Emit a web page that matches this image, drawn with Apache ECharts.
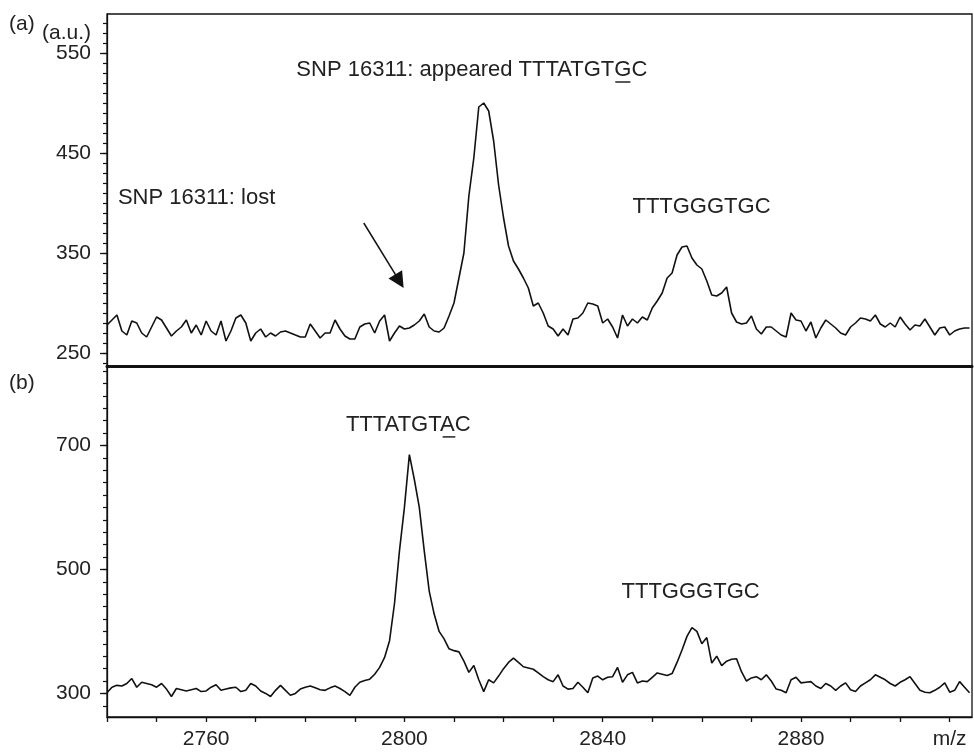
<!DOCTYPE html>
<html>
<head>
<meta charset="utf-8">
<script src="https://cdn.jsdelivr.net/npm/echarts@6/dist/echarts.min.js"></script>
<style>
    html, body { margin: 0; padding: 0; background: #fff; }
    #main { width: 974px; height: 752px; }
</style>
</head>
<body>
<div id="main"></div>
<script>
// m/z sampling: one point per unit, starting at 2740
var mzStart = 2740;

// (a) spectrum, intensity (a.u.), m/z 2740..2914
var intensityA = [
    278, 283, 288, 272, 268, 282, 280, 270, 266, 276,
    286, 283, 275, 267, 272, 276, 283, 270, 278, 268,
    282, 272, 268, 282, 262, 272, 285, 288, 280, 262,
    270, 274, 266, 270, 267, 271, 272, 270, 268, 266,
    266, 279, 272, 265, 270, 270, 283, 274, 267, 264,
    264, 276, 279, 280, 270, 282, 288, 262, 270, 277,
    274, 275, 278, 282, 289, 276, 272, 271, 275, 287,
    300, 325, 350, 407, 445, 496, 500, 492, 462, 418,
    385, 357, 342, 334, 325, 315, 297, 300, 290, 277,
    274, 267, 274, 268, 284, 285, 290, 300, 299, 297,
    280, 284, 276, 265, 288, 277, 284, 280, 286, 283,
    295, 302, 310, 325, 330, 348, 356, 357, 345, 338,
    334, 322, 308, 307, 310, 316, 290, 281, 279, 280,
    287, 274, 269, 276, 276, 272, 268, 266, 290, 283,
    282, 272, 281, 265, 275, 283, 279, 275, 270, 268,
    276, 280, 285, 284, 282, 288, 279, 276, 280, 276,
    286, 279, 273, 278, 277, 284, 276, 268, 275, 276,
    268, 272, 274, 275, 275
];

// (b) spectrum, intensity (a.u.), m/z 2740..2914
var intensityB = [
    301, 310, 313, 312, 316, 324, 310, 318, 316, 314,
    310, 316, 307, 295, 308, 306, 304, 306, 308, 303,
    304, 310, 314, 305, 307, 309, 310, 303, 305, 316,
    312, 304, 300, 295, 305, 313, 305, 297, 300, 307,
    310, 312, 309, 306, 305, 309, 312, 308, 303, 297,
    310, 318, 321, 323, 331, 342, 358, 385, 445, 530,
    600, 685, 645, 600, 530, 465, 428, 400, 388, 372,
    369, 367, 352, 334, 345, 322, 303, 322, 317, 328,
    340, 350, 357, 350, 343, 341, 339, 333, 327, 322,
    319, 330, 312, 307, 308, 318, 310, 301, 325, 328,
    322, 326, 327, 342, 318, 330, 334, 317, 320, 319,
    326, 333, 331, 329, 332, 350, 370, 392, 406, 400,
    380, 390, 349, 360, 345, 352, 355, 356, 335, 320,
    325, 327, 322, 330, 320, 307, 305, 301, 322, 326,
    317, 318, 319, 312, 308, 316, 312, 305, 312, 317,
    306, 303, 312, 317, 322, 330, 326, 322, 316, 312,
    318, 322, 327, 316, 305, 302, 301, 305, 310, 317,
    302, 305, 319, 310, 301
];

// axis ticks and labels
var xTicks = [2740, 2750, 2760, 2770, 2780, 2790, 2800, 2810, 2820, 2830,
              2840, 2850, 2860, 2870, 2880, 2890, 2900, 2910];
var xLabels = [2760, 2800, 2840, 2880, 2910];
var yLabelsA = [250, 350, 450, 550];
var yMinorA = [240, 250, 260, 270, 280, 290, 300, 310, 320, 330, 340, 350, 360,
               370, 380, 390, 400, 410, 420, 430, 440, 450, 460, 470, 480, 490,
               500, 510, 520, 530, 540, 550, 560, 570, 580];
var yLabelsB = [300, 500, 700];
var yMinorB = [280, 300, 320, 340, 360, 380, 400, 420, 440, 460, 480, 500, 520,
               540, 560, 580, 600, 620, 640, 660, 680, 700, 720, 740, 760, 780,
               800, 820];

// text annotations, anchored at (m/z, intensity) of their left/middle point
var notes = [
    { grid: 0, mz: 2778.2, val: 533, text: 'SNP 16311: appeared TTTATGTGC', under: 27 },
    { grid: 0, mz: 2742.2, val: 405, text: 'SNP 16311: lost' },
    { grid: 0, mz: 2846.0, val: 396, text: 'TTTGGGTGC' },
    { grid: 1, mz: 2788.2, val: 733, text: 'TTTATGTAC', under: 7 },
    { grid: 1, mz: 2843.8, val: 463, text: 'TTTGGGTGC' }
];
// arrow pointing at the lost peak in (a)
var arrowFrom = [2791.8, 380];
var arrowTo = [2799.0, 321.8];

var FONT = "'Liberation Sans', Arial, Helvetica, sans-serif";
var INK = '#111';
var NOTE_SIZE = 22;

var dataA = [], dataB = [];
for (var i = 0; i < intensityA.length; i++) {
    dataA.push([mzStart + i, intensityA[i]]);
    dataB.push([mzStart + i, intensityB[i]]);
}

var chart = echarts.init(document.getElementById('main'));

function yAxisPair(grid, min, max, labels, minor) {
    return [{
        gridIndex: grid, type: 'value', position: 'left', min: min, max: max,
        axisLine: { show: true, lineStyle: { color: INK, width: 1.3 } },
        axisTick: { show: true, customValues: labels, length: 7, lineStyle: { color: INK, width: 1.3 } },
        axisLabel: { customValues: labels, margin: 16, fontSize: 21, color: '#222', fontFamily: FONT },
        splitLine: { show: false }
    }, {
        gridIndex: grid, type: 'value', position: 'left', min: min, max: max,
        axisLine: { show: false },
        axisTick: { show: true, customValues: minor, length: 4, lineStyle: { color: INK, width: 1.2 } },
        axisLabel: { show: false },
        splitLine: { show: false }
    }];
}

var option = {
    animation: false,
    grid: [
        { left: 107, right: 2, top: 14, height: 352, show: true, borderColor: INK, borderWidth: 1.3 },
        { left: 107, right: 2, top: 366, bottom: 35, show: true, borderColor: INK, borderWidth: 1.3 }
    ],
    xAxis: [{
        gridIndex: 0, type: 'value', min: 2740, max: 2914.5,
        axisLine: { onZero: false, lineStyle: { color: INK, width: 3 } },
        axisTick: { show: false },
        axisLabel: { show: false },
        splitLine: { show: false }
    }, {
        gridIndex: 1, type: 'value', min: 2740, max: 2914.5,
        axisLine: { onZero: false, lineStyle: { color: INK, width: 1.3 } },
        axisTick: { show: true, customValues: xTicks, length: 5, lineStyle: { color: INK, width: 1.3 } },
        axisLabel: {
            customValues: xLabels, margin: 12, fontSize: 21, color: '#222', fontFamily: FONT,
            formatter: function (v) { return v === 2910 ? 'm/z' : String(v); }
        },
        splitLine: { show: false }
    }],
    yAxis: yAxisPair(0, 237, 589, yLabelsA, yMinorA).concat(yAxisPair(1, 262, 828, yLabelsB, yMinorB)),
    series: [{
        name: '(a)', type: 'line', xAxisIndex: 0, yAxisIndex: 0, data: dataA,
        showSymbol: false, symbol: 'none', silent: true,
        lineStyle: { color: INK, width: 1.6 },
        markLine: {
            silent: true, symbol: ['none', 'triangle'], symbolSize: 16,
            label: { show: false },
            itemStyle: { color: INK },
            lineStyle: { color: INK, width: 1.5, type: 'solid' },
            data: [[{ coord: arrowFrom }, { coord: arrowTo }]]
        }
    }, {
        name: '(b)', type: 'line', xAxisIndex: 1, yAxisIndex: 2, data: dataB,
        showSymbol: false, symbol: 'none', silent: true,
        lineStyle: { color: INK, width: 1.6 }
    }]
};
chart.setOption(option);

// annotations placed through the axes
var ctx = document.createElement('canvas').getContext('2d');
ctx.font = NOTE_SIZE + 'px ' + FONT;
function textEl(x, y, text, size) {
    return {
        type: 'text', x: x, y: y, silent: true,
        style: {
            text: text, fontSize: size, fontFamily: FONT, fill: '#222',
            align: 'left', verticalAlign: 'middle', textAlign: 'left', textVerticalAlign: 'middle'
        }
    };
}
var els = [];
notes.forEach(function (n) {
    var p = chart.convertToPixel({ gridIndex: n.grid }, [n.mz, n.val]);
    els.push(textEl(p[0], p[1], n.text, NOTE_SIZE));
    if (n.under != null) {
        var x0 = p[0] + ctx.measureText(n.text.slice(0, n.under)).width;
        var w = ctx.measureText(n.text.charAt(n.under)).width;
        els.push({
            type: 'line', silent: true,
            shape: { x1: x0 + 1, y1: p[1] + 12, x2: x0 + w - 1, y2: p[1] + 12 },
            style: { stroke: '#222', lineWidth: 1.5 }
        });
    }
});
els.push(textEl(9, 24, '(a)', 21));
els.push(textEl(42, 33, '(a.u.)', 21));
els.push(textEl(9, 383, '(b)', 21));
chart.setOption({ graphic: els });
</script>
</body>
</html>
